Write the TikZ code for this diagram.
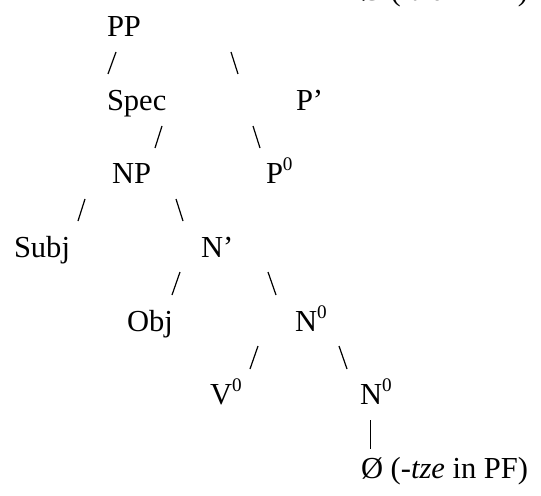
\documentclass[tikz,border=0pt]{standalone}
\usepackage{fontspec}
\setmainfont{Liberation Serif}
\newcommand\supzero{\raisebox{9.75pt}{\fontsize{14.4}{14.4}\selectfont 0}}
\begin{document}
\begin{tikzpicture}[x=0.75pt,y=-0.75pt,
  lbl/.style={anchor=base west, inner sep=0pt, outer sep=0pt, font=\fontsize{22.9}{27}\selectfont},
  edge/.style={line width=0.9pt, line cap=butt}]
\useasboundingbox (0,0) rectangle (541,495);
\clip (0,0) rectangle (541,495);
% cut-off line from the previous tree
\node[lbl] (prev) at (361,0.3) {Ø (-\textit{tze} in PF)};
% labels
\node[lbl] (PP)   at (107,37)    {PP};
\node[lbl] (Spec) at (107,110.4) {Spec};
\node[lbl] (Pbar) at (296,110.4) {P’};
\node[lbl] (NP)   at (112,184)   {NP};
\node[lbl] (P0)   at (266,184)   {P\supzero};
\node[lbl] (Subj) at (14,257.4)  {Subj};
\node[lbl] (Nbar) at (201,257.4) {N’};
\node[lbl] (Obj)  at (127,331)   {Obj};
\node[lbl] (N0a)  at (295,331)   {N\supzero};
\node[lbl] (V0)   at (210,404.4) {V\supzero};
\node[lbl] (N0b)  at (360,404.4) {N\supzero};
\node[lbl] (Null) at (361,478)   {Ø (-\textit{tze} in PF)};
% connector end points
\coordinate (s1a) at (116,52);  \coordinate (s1b) at (108,74);
\coordinate (s2a) at (231,52);  \coordinate (s2b) at (238,74);
\coordinate (s3a) at (162,126); \coordinate (s3b) at (155,148);
\coordinate (s4a) at (253,126); \coordinate (s4b) at (260,148);
\coordinate (s5a) at (85,199);  \coordinate (s5b) at (78,221);
\coordinate (s6a) at (176,199); \coordinate (s6b) at (183,221);
\coordinate (s7a) at (180,272); \coordinate (s7b) at (172,295);
\coordinate (s8a) at (268,272); \coordinate (s8b) at (276,295);
\coordinate (s9a) at (258,346); \coordinate (s9b) at (250,369);
\coordinate (s10a) at (339,346); \coordinate (s10b) at (347,369);
\coordinate (ba) at (370,420);  \coordinate (bb) at (370,449);
% connectors
\draw[edge] (s1a) -- (s1b);
\draw[edge] (s2a) -- (s2b);
\draw[edge] (s3a) -- (s3b);
\draw[edge] (s4a) -- (s4b);
\draw[edge] (s5a) -- (s5b);
\draw[edge] (s6a) -- (s6b);
\draw[edge] (s7a) -- (s7b);
\draw[edge] (s8a) -- (s8b);
\draw[edge] (s9a) -- (s9b);
\draw[edge] (s10a) -- (s10b);
\draw[line width=0.7pt] (ba) -- (bb);
\end{tikzpicture}
\end{document}
